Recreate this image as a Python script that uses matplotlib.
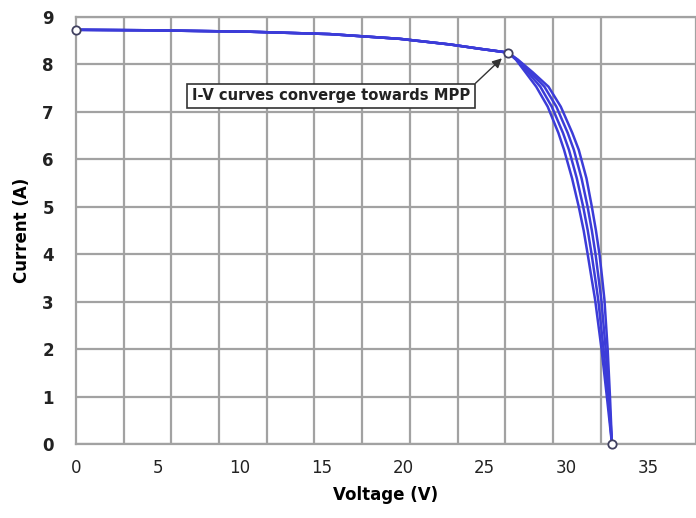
import numpy as np
import matplotlib
matplotlib.use("Agg")
import matplotlib.pyplot as plt

# shared flat part of the I-V curves (V, A), up to the MPP
flat_v = [0.0, 4.5, 10.6, 15.5, 19.8, 22.9, 24.7, 26.42]
flat_i = [8.73, 8.72, 8.69, 8.64, 8.54, 8.42, 8.33, 8.25]

# knee part, one voltage list per curve at these currents
knee_i = [8.10, 7.83, 7.53, 7.11, 6.56, 6.20, 5.60, 5.00, 4.50, 3.99, 3.50, 3.04,
          1.98, 0.99, 0.0]
knee_v = [
    [26.91, 27.50, 28.15, 28.85, 29.50, 29.85, 30.34, 30.75, 31.05, 31.30, 31.53,
     31.75, 32.15, 32.47, 32.78],
    [26.95, 27.65, 28.40, 29.10, 29.78, 30.15, 30.63, 31.02, 31.30, 31.54, 31.75,
     31.94, 32.27, 32.54, 32.78],
    [26.99, 27.80, 28.65, 29.38, 30.07, 30.45, 30.92, 31.29, 31.55, 31.78, 31.96,
     32.13, 32.40, 32.60, 32.78],
    [27.03, 27.95, 28.90, 29.65, 30.35, 30.75, 31.22, 31.55, 31.80, 32.02, 32.18,
     32.32, 32.52, 32.66, 32.78],
]

# marked points: Isc, MPP, Voc
mark_v = [0.0, 26.42, 32.78]
mark_i = [8.73, 8.25, 0.0]

x_ticks = [0, 5, 10, 15, 20, 25, 30, 35]
y_ticks = [0, 1, 2, 3, 4, 5, 6, 7, 8, 9]

fig = plt.figure(figsize=(6.96, 5.18), dpi=100)
ax = fig.add_axes([76 / 696, 1 - 444 / 518, 1 - 76 / 696, (444 - 17) / 518])

grid_col = "#a2a2a2"
ax.set_xlim(0, 37.92)
ax.set_ylim(0, 9)
ax.set_xticks(x_ticks)
ax.set_yticks(y_ticks)
ax.set_xticks(np.arange(0, 38, 35 / 12), minor=True)
ax.grid(which="minor", axis="x", color=grid_col, lw=1.6)
ax.grid(which="major", axis="y", color=grid_col, lw=1.6)
ax.tick_params(which="both", length=0)
ax.tick_params(axis="x", pad=11, labelsize=12, labelcolor="#222222")
ax.tick_params(axis="y", pad=16, labelsize=12, labelcolor="#222222")
for lab in ax.get_yticklabels():
    lab.set_fontweight("bold")
for side in ["left", "bottom", "top"]:
    ax.spines[side].set_color(grid_col)
    ax.spines[side].set_linewidth(1.6)
ax.spines["right"].set_visible(False)
ax.set_axisbelow(True)

for kv in knee_v:
    v = flat_v + kv
    i = flat_i + knee_i
    ax.plot(v, i, color="#3c3cd8", lw=1.8, solid_joinstyle="round", zorder=3)

ax.plot(mark_v, mark_i, "o", ms=6, mfc="white", mec="#404060", mew=1.3,
        zorder=5, clip_on=False)

ax.annotate("I-V curves converge towards MPP", xy=(mark_v[1] - 0.25, mark_i[1] - 0.08),
            xytext=(15.6, 7.34), ha="center", va="center",
            fontsize=10.6, fontweight="bold", color="#222222",
            bbox=dict(boxstyle="square,pad=0.32", fc="white", ec="#333333", lw=1.2),
            arrowprops=dict(arrowstyle="-|>", color="#333333", lw=1.0,
                            mutation_scale=14, shrinkA=0, shrinkB=2,
                            relpos=(1.0, 1.0)),
            zorder=6)

ax.set_xlabel("Voltage (V)", fontsize=12, fontweight="bold", labelpad=6)
ax.set_ylabel("Current (A)", fontsize=12, fontweight="bold", labelpad=8)

fig.savefig("out.png", dpi=100)
